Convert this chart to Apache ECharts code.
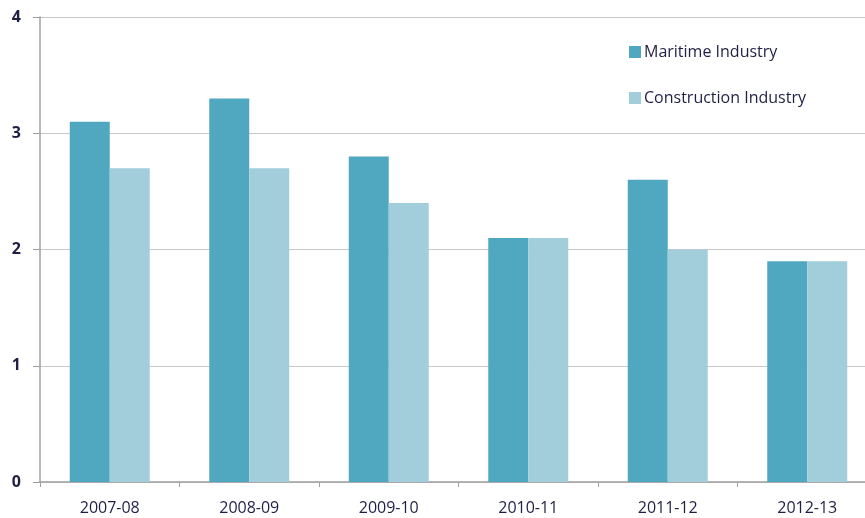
<!DOCTYPE html>
<html lang="en">
<head>
    <meta charset="UTF-8">
    <title>Maritime vs Construction Industry</title>
    <script src="https://cdn.jsdelivr.net/npm/echarts@6/dist/echarts.min.js"></script>
    <style>
        html, body { margin: 0; padding: 0; background: #fff; }
        #chart { width: 865px; height: 518px; }
    </style>
</head>
<body>
    <div id="chart"></div>
    <script>
        // data
        var years = ['2007-08', '2008-09', '2009-10', '2010-11', '2011-12', '2012-13'];
        var maritime = [3.1, 3.3, 2.8, 2.1, 2.6, 1.9];
        var construction = [2.7, 2.7, 2.4, 2.1, 2.0, 1.9];
        var seriesNames = ['Maritime Industry', 'Construction Industry'];

        var textColor = '#1f1f45';
        var chart = echarts.init(document.getElementById('chart'));

        chart.setOption({
            animation: false,
            grid: { left: 40, width: 837, top: 17, bottom: 36, outerBoundsMode: 'none' },
            legend: {
                orient: 'vertical',
                left: 624,
                top: 39,
                itemWidth: 12,
                itemHeight: 12,
                itemGap: 30,
                itemStyle: { borderWidth: 0 },
                icon: 'rect',
                textStyle: { color: textColor, fontSize: 16, fontFamily: 'Open Sans', padding: [0, 0, 0, -2] },
                data: seriesNames
            },
            xAxis: {
                type: 'category',
                data: years,
                axisLine: { lineStyle: { color: '#a0a0a0', width: 1.5 } },
                axisTick: { show: true, length: 5, lineStyle: { color: '#a0a0a0' } },
                axisLabel: { color: textColor, fontSize: 16, margin: 18, fontFamily: 'Open Sans' }
            },
            yAxis: {
                type: 'value',
                min: 0,
                max: 4,
                interval: 1,
                axisLine: { show: true, lineStyle: { color: '#a0a0a0', width: 1.5 } },
                axisTick: { show: true, length: 7, lineStyle: { color: '#a0a0a0' } },
                axisLabel: { color: textColor, fontSize: 16, margin: 19, fontWeight: 'bold', fontFamily: 'Open Sans' },
                splitLine: { lineStyle: { color: '#c8c8c8' } }
            },
            series: [
                {
                    name: seriesNames[0],
                    type: 'bar',
                    data: maritime,
                    barWidth: 40,
                    barGap: '0%',
                    itemStyle: { color: '#50a8c0' }
                },
                {
                    name: seriesNames[1],
                    type: 'bar',
                    data: construction,
                    barWidth: 40,
                    itemStyle: { color: '#a2cedc' }
                }
            ]
        });
    </script>
</body>
</html>
